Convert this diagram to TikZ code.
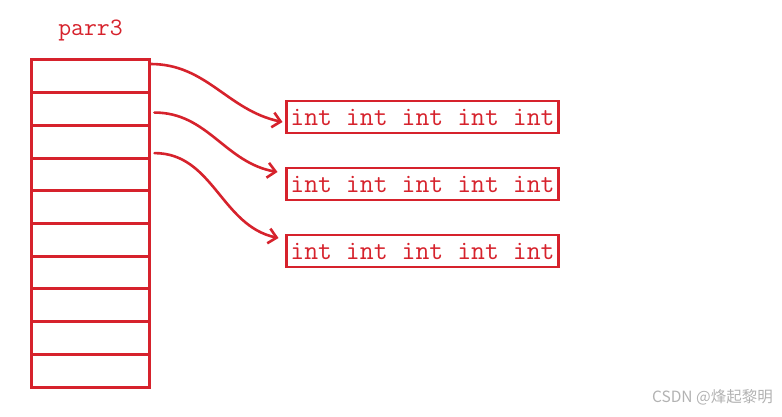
\documentclass[tikz,border=0pt]{standalone}
\usepackage{fontspec}
\usepackage{xcolor}
\newfontfamily\cjkmark{Noto Sans CJK SC}
\usetikzlibrary{positioning,arrows.meta}
\definecolor{penred}{RGB}{214,34,44}

\begin{document}
\begin{tikzpicture}[
    cell/.style={rectangle, draw=penred, line width=3pt, minimum width=118pt, minimum height=32.7pt, inner sep=0pt, outer sep=0pt},
    rowbox/.style={rectangle, draw=penred, line width=2.8pt, minimum width=272pt, minimum height=32pt, inner sep=0pt, outer sep=0pt, text=penred, font=\fontsize{27}{27}\selectfont\ttfamily},
    ptr/.style={draw=penred, line width=2.6pt, line cap=round, -{Straight Barb[length=8pt,width=15pt,line width=2.6pt]}}
    ]
        \useasboundingbox (0pt,0pt) rectangle (782pt,-417pt);

        %Array of pointers
        \node[cell] (cell0) at (90.5pt,-76.35pt) {};
        \foreach \i [count=\j from 0] in {1,...,9}
            \node[cell] (cell\i) [below=0pt of cell\j] {};
        \node[text=penred, inner sep=0pt, font=\fontsize{25}{25}\selectfont\ttfamily]
            (name) [above=19pt of cell0] {parr3};

        %Rows
        \node[rowbox] (row1) at (422.5pt,-117pt) {int int int int int};
        \node[rowbox] (row2) [below=35pt of row1] {int int int int int};
        \node[rowbox] (row3) [below=35pt of row2] {int int int int int};

        %Lines
        \draw[ptr] ([xshift=1pt,yshift=-4pt]cell0.north east)
            to[out=0, in=168] ([xshift=-4pt,yshift=-5pt]row1.west);
        \draw[ptr] ([xshift=5pt,yshift=-3.5pt]cell1.east)
            to[out=0, in=170] ([xshift=-9pt,yshift=12pt]row2.west);
        \draw[ptr] ([xshift=5pt,yshift=5pt]cell2.south east)
            to[out=0, in=168] ([xshift=-8pt,yshift=13pt]row3.west);

        %Watermark
        \node[anchor=east, text=black!30, inner sep=0pt, font=\cjkmark\fontsize{15.5}{15.5}\selectfont]
            (mark) at (773pt,-397pt) {CSDN @烽起黎明};
    \end{tikzpicture}
\end{document}
